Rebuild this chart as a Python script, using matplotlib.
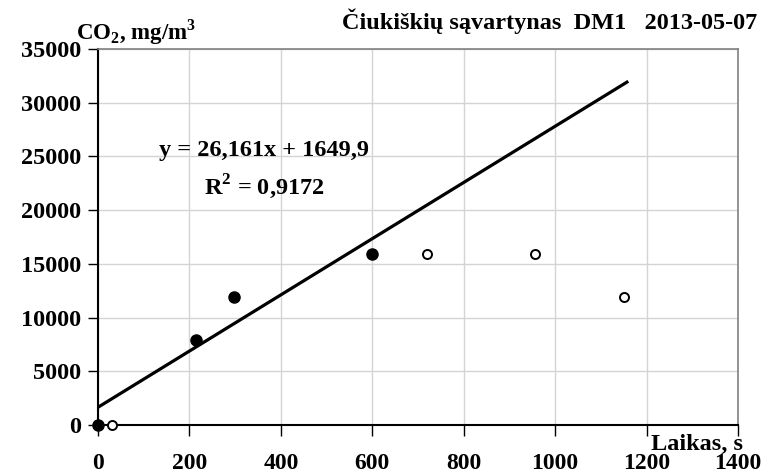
import numpy as np
from matplotlib import pyplot as plt

# measured points (filled = used for fit, open = not used)
fit_x = [0, 214, 297, 599]
fit_y = [0, 7900, 11950, 15900]
other_x = [30, 720, 956, 1151]
other_y = [0, 15900, 15900, 11950]

# Excel trendline
slope = 26.161
intercept = 1649.9
trend_x = [0, 1157]

x_ticks = [0, 200, 400, 600, 800, 1000, 1200, 1400]
y_ticks = [0, 5000, 10000, 15000, 20000, 25000, 30000, 35000]

title = "Čiukiškių sąvartynas  DM1   2013-05-07"

plt.rcParams['font.family'] = ['Liberation Serif', 'DejaVu Serif']
plt.rcParams['font.weight'] = 'bold'

fig = plt.figure(figsize=(7.69, 4.76), dpi=100)
ax = fig.add_axes([0.1274, 0.1071, 0.8323, 0.7899])

ty = [slope * x + intercept for x in trend_x]
ax.plot(trend_x, ty, color='black', linewidth=2.3, zorder=3)
ax.plot(fit_x, fit_y, 'o', color='black', markersize=8, zorder=4, clip_on=False)
ax.plot(other_x, other_y, 'o', markerfacecolor='white', markeredgecolor='black',
        markeredgewidth=1.4, markersize=6.5, zorder=4, clip_on=False)

ax.set_xlim(0, 1400)
ax.set_ylim(0, 35000)
ax.set_xticks(x_ticks)
ax.set_yticks(y_ticks)
ax.set_xticklabels([str(v) for v in x_ticks], fontsize=17, fontweight='bold')
ax.set_yticklabels([str(v) for v in y_ticks], fontsize=17.5, fontweight='bold')
ax.tick_params(axis='x', direction='out', length=8, width=1, pad=12)
ax.tick_params(axis='y', direction='out', length=7, width=1, pad=5)

ax.grid(True, color='#d4d4d4', linewidth=1)
ax.set_axisbelow(True)
for s in ['top', 'right']:
    ax.spines[s].set_color('#808080')
    ax.spines[s].set_linewidth(1.2)
for s in ['left', 'bottom']:
    ax.spines[s].set_color('black')
    ax.spines[s].set_linewidth(1.5)

fig.text(0.985, 0.94, title, ha='right', va='baseline', fontsize=17.5, fontweight='bold')
fig.text(0.099, 0.916, r"CO$_\mathregular{2}$, mg/m$^\mathregular{3}$", ha='left',
         va='baseline', fontsize=16.5, fontweight='bold')
fig.text(0.966, 0.055, "Laikas, s", ha='right', va='baseline', fontsize=17.5, fontweight='bold')

ax.text(0.259, 0.731, "y = 26,161x + 1649,9", transform=ax.transAxes, ha='center',
        va='center', fontsize=17.5, fontweight='bold')
ax.text(0.259, 0.633, r"R$^\mathregular{2}$ = 0,9172", transform=ax.transAxes, ha='center',
        va='center', fontsize=17.5, fontweight='bold')

fig.savefig('out.png', dpi=100)
